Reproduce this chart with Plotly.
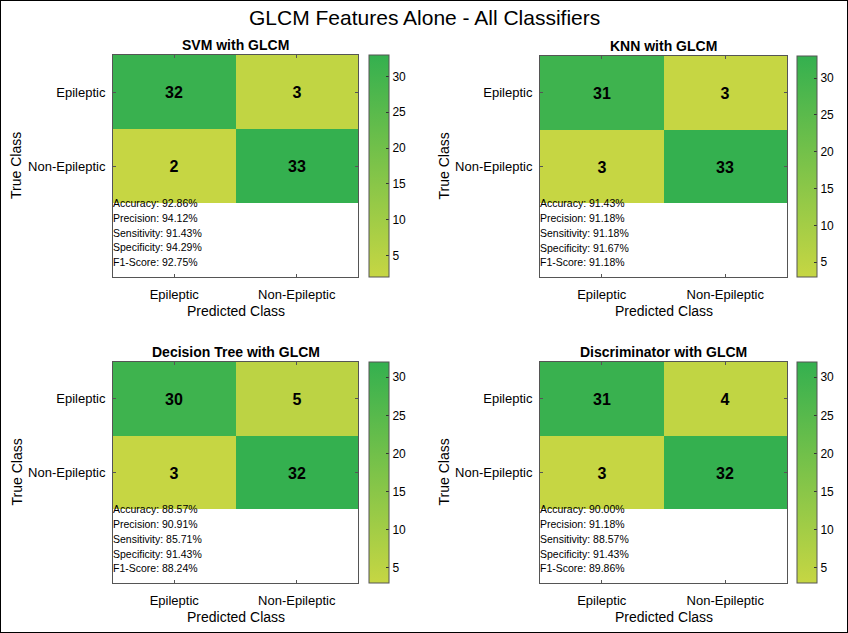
import plotly.graph_objects as go

# ---- data ----
fig_title = "GLCM Features Alone - All Classifiers"
classes = ["Epileptic", "Non-Epileptic"]
titles = ["SVM with GLCM", "KNN with GLCM", "Decision Tree with GLCM", "Discriminator with GLCM"]
cm_svm = [[32, 3], [2, 33]]
cm_knn = [[31, 3], [3, 33]]
cm_dt = [[30, 5], [3, 32]]
cm_disc = [[31, 4], [3, 32]]
metric_names = ["Accuracy", "Precision", "Sensitivity", "Specificity", "F1-Score"]
met_svm = ["92.86%", "94.12%", "91.43%", "94.29%", "92.75%"]
met_knn = ["91.43%", "91.18%", "91.18%", "91.67%", "91.18%"]
met_dt = ["88.57%", "90.91%", "85.71%", "91.43%", "88.24%"]
met_disc = ["90.00%", "91.18%", "88.57%", "91.43%", "89.86%"]
cbar_ticks = [5, 10, 15, 20, 25, 30]

cms = [cm_svm, cm_knn, cm_dt, cm_disc]
mets = [met_svm, met_knn, met_dt, met_disc]

W, H = 848, 633
FONT = "Liberation Sans, Arial, sans-serif"
# axes boxes in pixels (left, right, top, bottom)
boxes = [(113, 358, 55, 277), (540, 787, 56, 277), (113, 358, 362, 583), (540, 787, 362, 583)]
cbar_x = [369, 797, 369, 797]

colorscale = [[0, "#c6d643"], [1, "#34b04f"]]

fig = go.Figure()
annotations = []
for i in range(4):
    l, r, t, b = boxes[i]
    xa = "x" if i == 0 else f"x{i+1}"
    ya = "y" if i == 0 else f"y{i+1}"
    z = cms[i]
    flat = [v for row in z for v in row]
    fig.add_trace(go.Heatmap(
        z=z, x=[0, 1], y=[0, 1], xaxis=xa, yaxis=ya,
        colorscale=colorscale, zmin=min(flat), zmax=max(flat),
        texttemplate="%{z}",
        textfont=dict(family=FONT, size=16, color="black", weight="bold"),
        hoverinfo="skip",
        colorbar=dict(
            x=cbar_x[i] / W, xanchor="left", xpad=0,
            y=1 - (t + b) / 2 / H, yanchor="middle", ypad=0,
            lenmode="pixels", len=b - t, thicknessmode="pixels", thickness=20,
            outlinewidth=1, outlinecolor="#555555",
            tickvals=cbar_ticks, ticks="inside", ticklen=3, tickcolor="#333333",
            tickfont=dict(family=FONT, size=12, color="black"),
        ),
    ))
    axx = dict(domain=[l / W, r / W], range=[-0.5, 1.5], tickvals=[0, 1], ticktext=classes,
               showline=True, mirror="ticks", linecolor="#555555", linewidth=1,
               ticks="inside", ticklen=3, tickcolor="#555555", showgrid=False, zeroline=False,
               tickfont=dict(family=FONT, size=13, color="black"), anchor=ya,
               ticklabelstandoff=5)
    axy = dict(domain=[1 - b / H, 1 - t / H], range=[2.5, -0.5], tickvals=[0, 1], ticktext=classes,
               showline=True, mirror="ticks", linecolor="#555555", linewidth=1,
               ticks="inside", ticklen=3, tickcolor="#555555", showgrid=False, zeroline=False,
               tickfont=dict(family=FONT, size=13, color="black"), anchor=xa,
               ticklabelstandoff=4)
    fig.update_layout(**{("xaxis" if i == 0 else f"xaxis{i+1}"): axx,
                         ("yaxis" if i == 0 else f"yaxis{i+1}"): axy})
    # metrics text in the empty third row
    for k, (name, val) in enumerate(zip(metric_names, mets[i])):
        annotations.append(dict(x=-0.5, y=1.5 + 0.2 * k, xref=xa, yref=ya,
                                text=f"{name}: {val}", showarrow=False,
                                xanchor="left", yanchor="middle", xshift=-2,
                                font=dict(family=FONT, size=10.5, color="black")))
    # subplot title
    annotations.append(dict(x=(l + r) / 2 / W, y=1 - (t - 10) / H, xref="paper", yref="paper",
                            text=f"<b>{titles[i]}</b>", showarrow=False,
                            xanchor="center", yanchor="middle",
                            font=dict(family=FONT, size=14, color="black")))
    # axis titles
    annotations.append(dict(x=(l + r) / 2 / W, y=1 - (b + 34) / H, xref="paper", yref="paper",
                            text="Predicted Class", showarrow=False,
                            xanchor="center", yanchor="middle",
                            font=dict(family=FONT, size=14, color="black")))
    annotations.append(dict(x=(l - 97) / W, y=1 - (t + b) / 2 / H, xref="paper", yref="paper",
                            text="True Class", showarrow=False, textangle=-90,
                            xanchor="center", yanchor="middle",
                            font=dict(family=FONT, size=14, color="black")))

annotations.append(dict(x=0.5, y=1 - 18 / H, xref="paper", yref="paper", text=fig_title,
                        showarrow=False, xanchor="center", yanchor="middle",
                        font=dict(family=FONT, size=21, color="black")))

fig.update_layout(
    width=W, height=H, margin=dict(l=0, r=0, t=0, b=0),
    paper_bgcolor="white", plot_bgcolor="white",
    annotations=annotations, showlegend=False,
    shapes=[dict(type="rect", xref="paper", yref="paper", x0=0, y0=0, x1=1, y1=1,
                 line=dict(color="black", width=2))],
)

fig.write_html("out.html", config={"displayModeBar": False},
               post_script="document.body.style.margin='0';document.body.style.overflow='hidden';")
